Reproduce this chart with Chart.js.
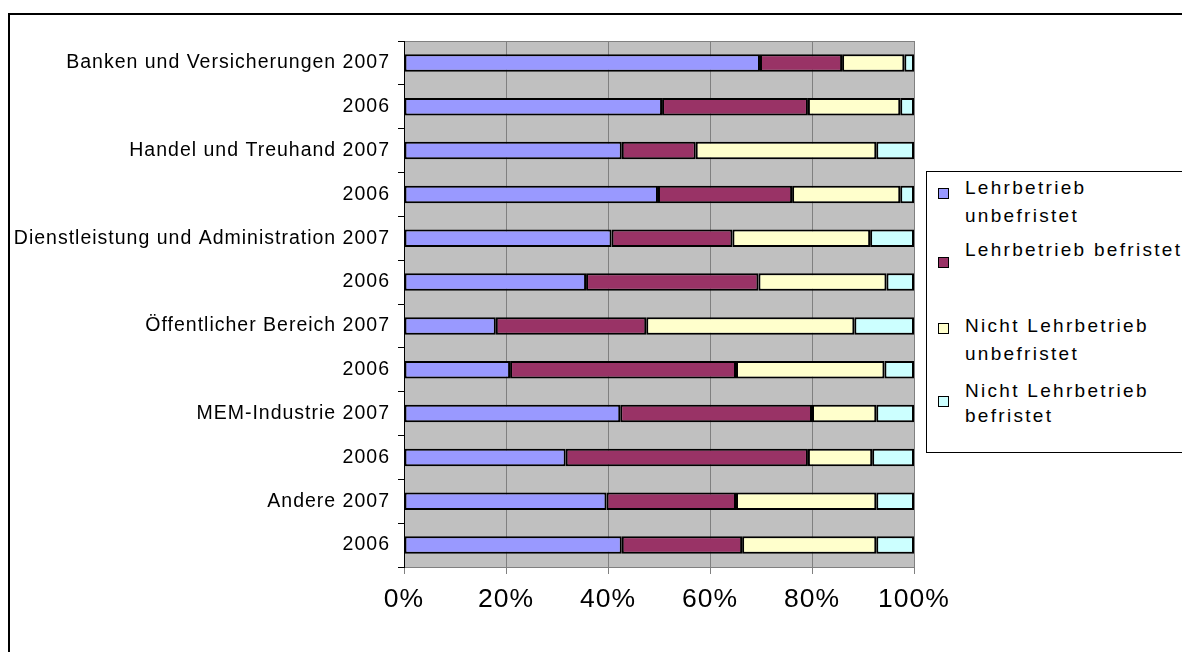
<!DOCTYPE html>
<html>
<head>
<meta charset="utf-8">
<script src="https://cdn.jsdelivr.net/npm/chart.js@4/dist/chart.umd.min.js"></script>
<style>
  html, body { margin: 0; padding: 0; background: #fff; }
  #wrap { position: relative; width: 1182px; height: 652px; overflow: hidden; }
  #c { position: absolute; left: 0; top: 0; }
  #legend { position: absolute; left: 926px; top: 171px; width: 300px; height: 280px;
            border: 1px solid #000; background: #fff; font-family: "Liberation Sans", Arial, sans-serif;
            font-size: 19px; letter-spacing: 2.3px; color: #000; }
  .sw { position: absolute; width: 9px; height: 9px; border: 1px solid #000; }
  .lt { position: absolute; white-space: nowrap; line-height: 28px; }
</style>
</head>
<body>
<div id="wrap">
  <canvas id="c" width="1182" height="652"></canvas>
  <div id="legend"></div>
</div>
<script>
const categories = ["Banken und Versicherungen 2007", "2006", "Handel und Treuhand 2007", "2006",
  "Dienstleistung und Administration 2007", "2006", "Öffentlicher Bereich 2007", "2006",
  "MEM-Industrie 2007", "2006", "Andere 2007", "2006"];
const seriesNames = ["Lehrbetrieb unbefristet", "Lehrbetrieb befristet", "Nicht Lehrbetrieb unbefristet", "Nicht Lehrbetrieb befristet"];
const lehrbetriebUnbefristet = [69.8, 50.6, 42.7, 49.8, 40.7, 35.7, 18.0, 20.8, 42.4, 31.7, 39.7, 42.7];
const lehrbetriebBefristet = [16.1, 28.6, 14.5, 26.3, 23.7, 33.8, 29.5, 44.3, 37.6, 47.5, 25.4, 23.6];
const nichtLehrbetriebUnbefristet = [12.2, 18.1, 35.4, 21.2, 27.0, 25.1, 40.8, 29.1, 12.6, 12.6, 27.5, 26.3];
const nichtLehrbetriebBefristet = [1.9, 2.7, 7.4, 2.7, 8.6, 5.4, 11.7, 5.8, 7.4, 8.2, 7.4, 7.4];
const xTickValues = [0, 20, 40, 60, 80, 100];

const colors = ["#9999FF", "#993366", "#FFFFCC", "#CCFFFF"];
const seriesData = [lehrbetriebUnbefristet, lehrbetriebBefristet, nichtLehrbetriebUnbefristet, nichtLehrbetriebBefristet];

const FONT = "'Liberation Sans', Arial, sans-serif";

const bgPlugin = {
  id: 'bg',
  beforeDraw(chart) {
    const ctx = chart.ctx;
    const a = chart.chartArea;
    ctx.save();
    ctx.fillStyle = '#fff';
    ctx.fillRect(0, 0, chart.width, chart.height);
    ctx.strokeStyle = '#000';
    ctx.lineWidth = 2;
    ctx.strokeRect(9, 14, chart.width + 20, chart.height + 20);
    ctx.fillStyle = '#C0C0C0';
    ctx.fillRect(a.left, a.top, a.right - a.left, a.bottom - a.top);
    ctx.strokeStyle = '#808080';
    ctx.lineWidth = 1;
    ctx.strokeRect(a.left + 0.5, a.top + 0.5, a.right - a.left, a.bottom - a.top);
    ctx.restore();
    try { ctx.letterSpacing = '1px'; } catch (e) {}
  }
};

new Chart(document.getElementById('c'), {
  type: 'bar',
  data: {
    labels: categories,
    datasets: seriesNames.map((n, i) => ({
      label: n,
      data: seriesData[i],
      backgroundColor: colors[i],
      borderColor: '#000',
      borderWidth: 2,
      borderSkipped: false,
      barPercentage: 0.4,
      categoryPercentage: 1.0
    }))
  },
  options: {
    indexAxis: 'y',
    responsive: false,
    animation: false,
    layout: { padding: { top: 41, right: 268, bottom: 0, left: 0 } },
    plugins: { legend: { display: false }, tooltip: { enabled: false } },
    scales: {
      x: {
        stacked: true,
        min: 0, max: 100,
        afterBuildTicks(scale) { scale.ticks = xTickValues.map(v => ({ value: v })); },
        afterFit(scale) { scale.height = 85; },
        ticks: {
          callback: v => v + '%',
          color: '#000',
          font: { family: FONT, size: 26.5 },
          padding: 10,
          maxRotation: 0
        },
        grid: { color: '#808080', lineWidth: 1, tickLength: 7, tickColor: '#808080' },
        border: { display: true, color: '#808080', width: 1 }
      },
      y: {
        stacked: true,
        afterFit(scale) { scale.width = 404; },
        ticks: {
          color: '#000',
          font: { family: FONT, size: 19.5 },
          padding: 8,
          autoSkip: false
        },
        grid: { drawOnChartArea: false, offset: true, tickLength: 6, tickColor: '#000', lineWidth: 1 },
        border: { display: true, color: '#000', width: 1 }
      }
    }
  },
  plugins: [bgPlugin]
});

// HTML legend
const legend = document.getElementById('legend');
const legendItems = [
  { lines: ["Lehrbetrieb", "unbefristet"], textTop: 2, swTop: 16, lh: 28 },
  { lines: ["Lehrbetrieb befristet"], textTop: 64, swTop: 85, lh: 28 },
  { lines: ["Nicht Lehrbetrieb", "unbefristet"], textTop: 140, swTop: 151, lh: 28 },
  { lines: ["Nicht Lehrbetrieb", "befristet"], textTop: 206, swTop: 224, lh: 25 }
];
legendItems.forEach((it, i) => {
  const sw = document.createElement('div');
  sw.className = 'sw';
  sw.style.left = '11px';
  sw.style.top = it.swTop + 'px';
  sw.style.background = colors[i];
  legend.appendChild(sw);
  const t = document.createElement('div');
  t.className = 'lt';
  t.style.left = '38px';
  t.style.top = it.textTop + 'px';
  t.style.lineHeight = it.lh + 'px';
  t.innerHTML = it.lines.join('<br>');
  legend.appendChild(t);
});
</script>
</body>
</html>
